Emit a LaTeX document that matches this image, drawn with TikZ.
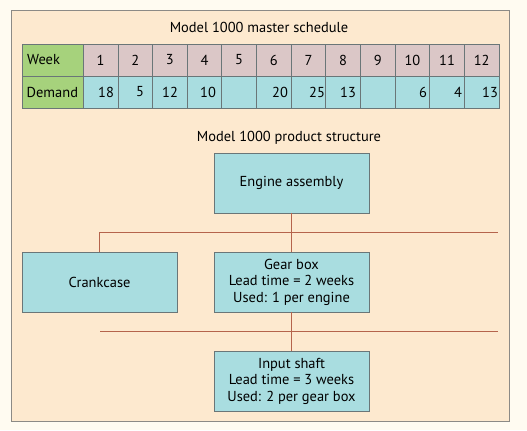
\documentclass[tikz,border=0pt]{standalone}
\usepackage{fontspec}
\setmainfont{PT Sans}
\definecolor{pagebg}{HTML}{FFFBF1}
\definecolor{framebg}{HTML}{FDE9CF}
\definecolor{framecol}{HTML}{8C8A86}
\definecolor{boxfill}{HTML}{A9DDE0}
\definecolor{boxline}{HTML}{6A7678}
\definecolor{weekfill}{HTML}{DBC7C7}
\definecolor{labfill}{HTML}{A6D27C}
\definecolor{linkcol}{HTML}{B5644C}
\begin{document}
\begin{tikzpicture}[x=1bp,y=-1bp,
  txt/.style={font=\fontsize{14.5}{16.5}\selectfont, inner sep=0pt},
  cell/.style={draw=boxline, line width=0.8bp, inner sep=0pt, minimum height=32bp, minimum width=34.64bp},
  labcell/.style={cell, fill=labfill, minimum width=61.3bp},
  wcell/.style={cell, fill=weekfill},
  dcell/.style={cell, fill=boxfill},
  part/.style={draw=boxline, line width=0.8bp, fill=boxfill, minimum width=155bp, minimum height=60bp, inner sep=0pt, align=center, font=\fontsize{14.5}{16.5}\selectfont},
  link/.style={draw=linkcol, line width=0.9bp}]
\useasboundingbox (0,0) rectangle (527,430);
\fill[pagebg] (0,0) rectangle (527,430);
\draw[framecol, fill=framebg, line width=0.8bp] (11,10) rectangle (509,421);
% titles
\node[txt] (t1) at (259,27) {Model 1000 master schedule};
\node[txt] (t2) at (289,138) {Model 1000 product structure};
% table
\node[labcell] (wk) at (52.65,60) {};
\node[txt, anchor=west] (wkl) at (27,60) {Week};
\node[labcell] (dm) at (52.65,92) {};
\node[txt, anchor=west] (dml) at (26.5,92) {Demand};
\foreach \i in {1,...,12}{
  \pgfmathsetmacro{\cx}{83.3+(\i-0.5)*34.64}
  \node[wcell] (w\i) at (\cx,60) {};
  \node[txt] (wt\i) at (\cx,60) {\i};
  \node[dcell] (d\i) at (\cx,92) {};
}
\foreach \x/\v/\n in {106/18/1, 140/5/2, 170/12/3, 208/10/4, 280/20/6, 317/25/7, 348/13/8, 423/6/10, 458/4/11, 490/13/12}{
  \node[txt] (dv\n) at (\x,92) {\v};
}
% product structure
\node[part] (eng) at (291.5,183) {Engine assembly};
\node[part] (crank) at (99.5,282) {Crankcase};
\node[part] (gear) at (291.5,282) {Gear box\\Lead time = 2 weeks\\Used: 1 per engine};
\node[part] (shaft) at (291.5,381) {Input shaft\\Lead time = 3 weeks\\Used: 2 per gear box};
\coordinate (h1r) at (498,232);
\coordinate (h2l) at (100,331);
\coordinate (h2r) at (498,331);
\draw[link] (crank.north) |- (h1r);
\draw[link] (eng.south) -- (gear.north);
\draw[link] (h2l) -- (h2r);
\draw[link] (gear.south) -- (shaft.north);
\end{tikzpicture}
\end{document}
